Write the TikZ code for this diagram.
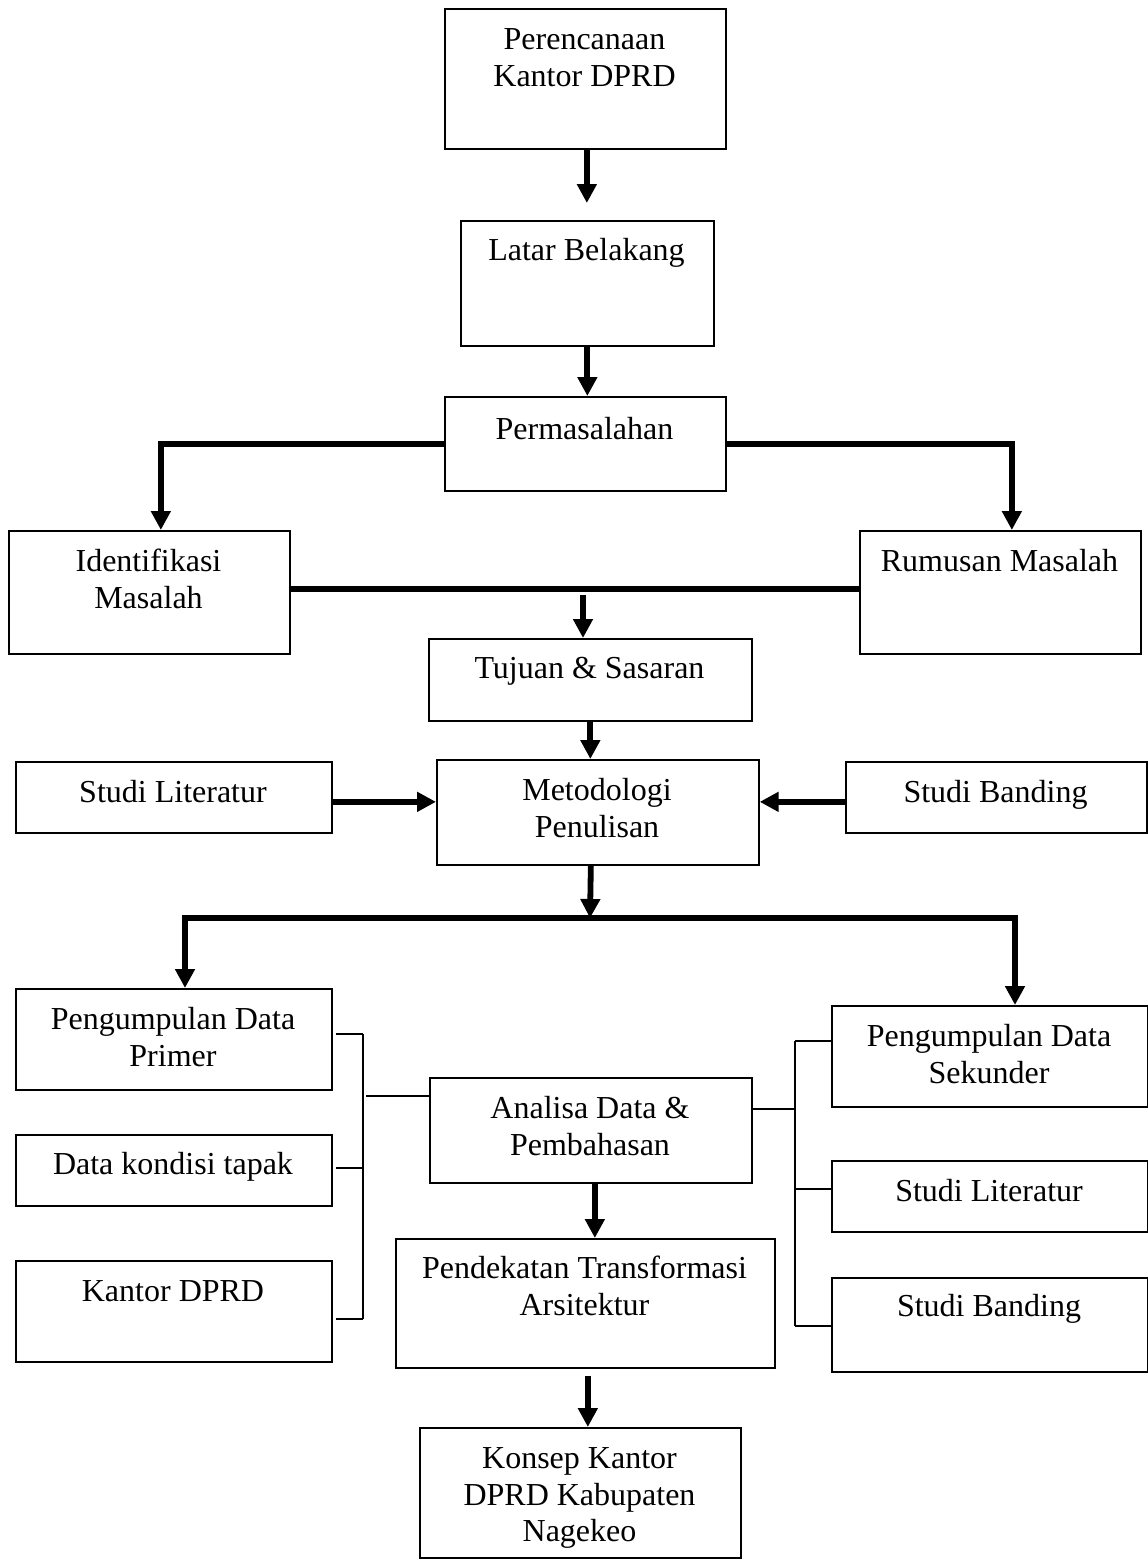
\documentclass[tikz,border=0pt]{standalone}
\usepackage{fontspec}
\setmainfont{Liberation Serif}
\usetikzlibrary{arrows.meta,calc}
\tikzset{
  box/.style={draw, line width=1.7pt, rectangle, inner sep=0pt, anchor=north west},
  txt/.style={anchor=base, inner sep=0pt, font=\fontsize{32}{37}\selectfont},
  arr/.style={line width=5.8pt, -{Triangle[length=19pt,width=19pt]}},
  thk/.style={line width=5.8pt},
  br/.style={line width=2pt}
}
\begin{document}
\begin{tikzpicture}[x=1pt,y=-1pt]
\path[use as bounding box, fill=white] (0,0) rectangle (1148,1566);
% boxes
\node[box, minimum width=281, minimum height=140] (pk) at (444,8) {};
\node[box, minimum width=253, minimum height=125] (lb) at (460,220) {};
\node[box, minimum width=281, minimum height=94] (pm) at (444,396) {};
\node[box, minimum width=281, minimum height=123] (im) at (8,530) {};
\node[box, minimum width=281, minimum height=123] (rm) at (859,530) {};
\node[box, minimum width=323, minimum height=82] (ts) at (428,638) {};
\node[box, minimum width=316, minimum height=71] (sl) at (15,761) {};
\node[box, minimum width=322, minimum height=105] (mp) at (436,759) {};
\node[box, minimum width=301, minimum height=71] (sb) at (845,761) {};
\node[box, minimum width=316, minimum height=101] (pp) at (15,988) {};
\node[box, minimum width=316, minimum height=71] (dk) at (15,1134) {};
\node[box, minimum width=316, minimum height=101] (kd) at (15,1260) {};
\node[box, minimum width=322, minimum height=105] (ad) at (429,1077) {};
\node[box, minimum width=379, minimum height=129] (pt) at (395,1238) {};
\node[box, minimum width=321, minimum height=130] (kk) at (419,1427) {};
\node[box, minimum width=316, minimum height=101] (ps) at (831,1005) {};
\node[box, minimum width=316, minimum height=71] (sl2) at (831,1160) {};
\node[box, minimum width=316, minimum height=94] (sb2) at (831,1277) {};
% texts
\node[txt] (pk1) at (584.5,49) {Perencanaan};
\node[txt] (pk2) at (584.5,86) {Kantor DPRD};
\node[txt] (lb1) at (586.5,260) {Latar Belakang};
\node[txt] (pm1) at (584.5,439) {Permasalahan};
\node[txt] (im1) at (148.5,571) {Identifikasi};
\node[txt] (im2) at (148.5,608) {Masalah};
\node[txt] (rm1) at (999.5,571) {Rumusan Masalah};
\node[txt] (ts1) at (589.5,678) {Tujuan \& Sasaran};
\node[txt] (sl1) at (173,802) {Studi Literatur};
\node[txt] (mp1) at (597,800) {Metodologi};
\node[txt] (mp2) at (597,837) {Penulisan};
\node[txt] (sb1) at (995.5,802) {Studi Banding};
\node[txt] (pp1) at (173,1029) {Pengumpulan Data};
\node[txt] (pp2) at (173,1066) {Primer};
\node[txt] (dk1) at (173,1174) {Data kondisi tapak};
\node[txt] (kd1) at (173,1301) {Kantor DPRD};
\node[txt] (ad1) at (590,1118) {Analisa Data \&};
\node[txt] (ad2) at (590,1155) {Pembahasan};
\node[txt] (pt1) at (584.5,1278) {Pendekatan Transformasi};
\node[txt] (pt2) at (584.5,1315) {Arsitektur};
\node[txt] (kk1) at (579.5,1468) {Konsep Kantor};
\node[txt] (kk2) at (579.5,1505) {DPRD Kabupaten};
\node[txt] (kk3) at (579.5,1541) {Nagekeo};
\node[txt] (ps1) at (989,1046) {Pengumpulan Data};
\node[txt] (ps2) at (989,1083) {Sekunder};
\node[txt] (sl21) at (989,1201) {Studi Literatur};
\node[txt] (sb21) at (989,1316) {Studi Banding};
% connectors
\draw[arr, shorten >=17pt] ([xshift=1.5]pk.south) -- ([xshift=1.5]pk.south |- lb.north);
\draw[arr] (lb.south) -- (lb.south |- pm.north);
\draw[arr] (pm.west) -| ([xshift=11.5]im.north);
\draw[arr] (pm.east) -| ([xshift=11.5]rm.north);
\draw[thk] ([yshift=3.5]im.east) -- ([yshift=3.5]rm.west);
\coordinate (j1) at (583,595);
\draw[arr] (j1) -- (j1 |- ts.north);
\draw[arr] (ts.south) -- (ts.south |- mp.north);
\draw[arr] ([yshift=-4.5]sl.east) -- ([yshift=-4.5]sl.east -| mp.west);
\draw[arr] ([yshift=-4.5]sb.west) -- ([yshift=-4.5]sb.west -| mp.east);
\coordinate (bm) at (590,918);
\coordinate (bl) at (185,918);
\coordinate (bri) at (1015,918);
\draw[arr] ([xshift=-7]mp.south) -- (bm);
\draw[arr] (bm) -| (bl |- pp.north);
\draw[arr] (bm) -| (bri |- ps.north);
% left bracket
\coordinate (lt) at (363,1034);
\coordinate (lbt) at (363,1319);
\draw[br] (lt) -- (lbt);
\draw[br, shorten >=3pt] (lt) -- (lt -| pp.east);
\draw[br, shorten >=3pt] (363,1168) -- (363,1168 -| dk.east);
\draw[br, shorten >=3pt] (lbt) -- (lbt -| kd.east);
\draw[br, shorten <=3pt] (363,1096) -- (363,1096 -| ad.west);
% right bracket
\coordinate (rt) at (795,1041);
\coordinate (rb) at (795,1326);
\draw[br] (rt) -- (rb);
\draw[br] (rt) -- (rt -| ps.west);
\draw[br] (795,1189) -- (795,1189 -| sl2.west);
\draw[br] (rb) -- (rb -| sb2.west);
\draw[br] (795,1109) -- (795,1109 -| ad.east);
% lower arrows
\draw[arr] ([xshift=4]ad.south) -- ([xshift=4]ad.south |- pt.north);
\draw[arr, shorten <=7pt] ([xshift=2.5]pt.south) -- ([xshift=2.5]pt.south |- kk.north);
\end{tikzpicture}
\end{document}
